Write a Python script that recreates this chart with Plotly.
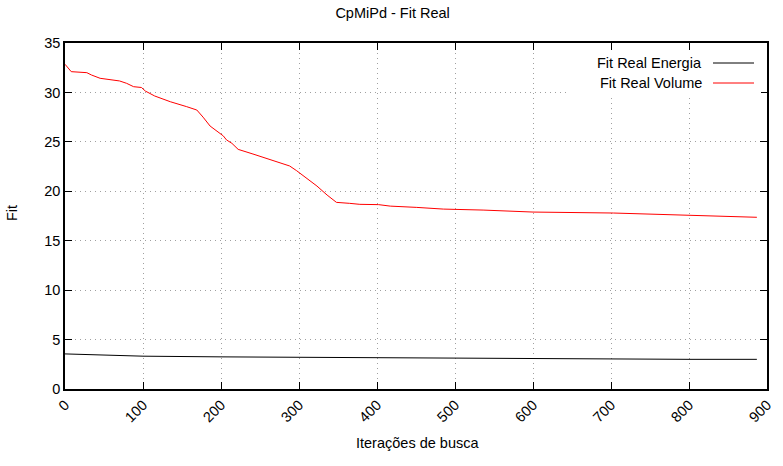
import plotly.graph_objects as go

# Data
iter_volume = [0, 1, 8, 28, 34, 45, 58, 70, 79, 88, 98, 103, 115, 135, 156, 169, 177, 186,
               203, 207, 214, 222, 241, 259, 276, 288, 297, 310, 323, 336, 348, 365, 378,
               402, 417, 451, 485, 536, 600, 703, 750, 805, 887]
fit_volume = [32.85, 32.77, 32.1, 32.0, 31.76, 31.43, 31.26, 31.16, 30.92, 30.58, 30.5, 30.14,
              29.64, 29.06, 28.56, 28.22, 27.5, 26.6, 25.6, 25.2, 24.85, 24.24, 23.77, 23.3,
              22.83, 22.56, 22.08, 21.3, 20.53, 19.62, 18.88, 18.78, 18.68, 18.65, 18.5,
              18.37, 18.2, 18.1, 17.9, 17.8, 17.7, 17.57, 17.37]

iter_energia = [0, 100, 200, 300, 400, 500, 600, 700, 800, 887]
fit_energia = [3.55, 3.32, 3.25, 3.2, 3.15, 3.12, 3.05, 3.04, 3.0, 3.0]

x_ticks = [0, 100, 200, 300, 400, 500, 600, 700, 800, 900]
y_ticks = [0, 5, 10, 15, 20, 25, 30, 35]

series_names = ["Fit Real Energia", "Fit Real Volume"]
series_colors = ["#000000", "#ff0000"]

FONT = "Liberation Sans, Arial, Helvetica, sans-serif"
FS = 14.5

fig = go.Figure()
fig.add_trace(go.Scatter(x=iter_energia, y=fit_energia, mode="lines", name=series_names[0],
                         line=dict(color=series_colors[0], width=1)))
fig.add_trace(go.Scatter(x=iter_volume, y=fit_volume, mode="lines", name=series_names[1],
                         line=dict(color=series_colors[1], width=1)))

W, H = 783, 466
ml, mr, mt, mb = 65, 16, 43, 77
pw, ph = W - ml - mr, H - mt - mb

def px_x(p):
    return (p - ml) / pw

def px_y(p):
    return 1 - (p - mt) / ph

axis_common = dict(
    showline=True, linecolor="black", linewidth=1.5, mirror="allticks",
    ticks="inside", ticklen=7, tickcolor="black", tickwidth=1,
    showgrid=True, gridcolor="#a0a0a0", griddash="1px,4px", gridwidth=1,
    zeroline=False, automargin=False,
    tickfont=dict(family=FONT, size=FS, color="black"),
)

fig.update_xaxes(range=[0, 900], tickvals=x_ticks, ticktext=[str(v) for v in x_ticks],
                 tickangle=-45, **axis_common)
fig.update_yaxes(range=[0, 35], tickvals=y_ticks, ticktext=[str(v) for v in y_ticks],
                 **axis_common)

# Opaque key box (like gnuplot) and manual key entries: text then line sample
shapes = [dict(type="rect", xref="paper", yref="paper",
               x0=px_x(568), x1=px_x(761), y0=px_y(94), y1=px_y(51),
               fillcolor="white", line=dict(width=0), layer="above")]
annotations = []
key_y = [63, 83]
for name, color, yy in zip(series_names, series_colors, key_y):
    annotations.append(dict(xref="paper", yref="paper", x=px_x(704), y=px_y(yy),
                            xanchor="right", yanchor="middle", text=name, showarrow=False,
                            font=dict(family=FONT, size=FS, color="black")))
    shapes.append(dict(type="line", xref="paper", yref="paper",
                       x0=px_x(713), x1=px_x(754), y0=px_y(yy), y1=px_y(yy),
                       line=dict(color=color, width=1), layer="above"))

# Axis titles
annotations.append(dict(xref="paper", yref="paper", x=px_x(418), y=px_y(443),
                        xanchor="center", yanchor="middle", text="Iterações de busca",
                        showarrow=False, font=dict(family=FONT, size=FS, color="black")))
annotations.append(dict(xref="paper", yref="paper", x=px_x(12), y=px_y(213),
                        xanchor="center", yanchor="middle", text="Fit", textangle=-90,
                        showarrow=False, font=dict(family=FONT, size=FS, color="black")))

fig.update_layout(
    width=W, height=H,
    margin=dict(l=ml, r=mr, t=mt, b=mb),
    paper_bgcolor="white", plot_bgcolor="white",
    showlegend=False,
    title=dict(text="CpMiPd - Fit Real", x=px_x(417), xanchor="center",
               y=1 - 13 / H, yanchor="middle",
               font=dict(family=FONT, size=FS, color="black")),
    shapes=shapes, annotations=annotations,
)

fig.write_html("out.html", config={"displayModeBar": False},
               post_script="document.body.style.margin='0';")
